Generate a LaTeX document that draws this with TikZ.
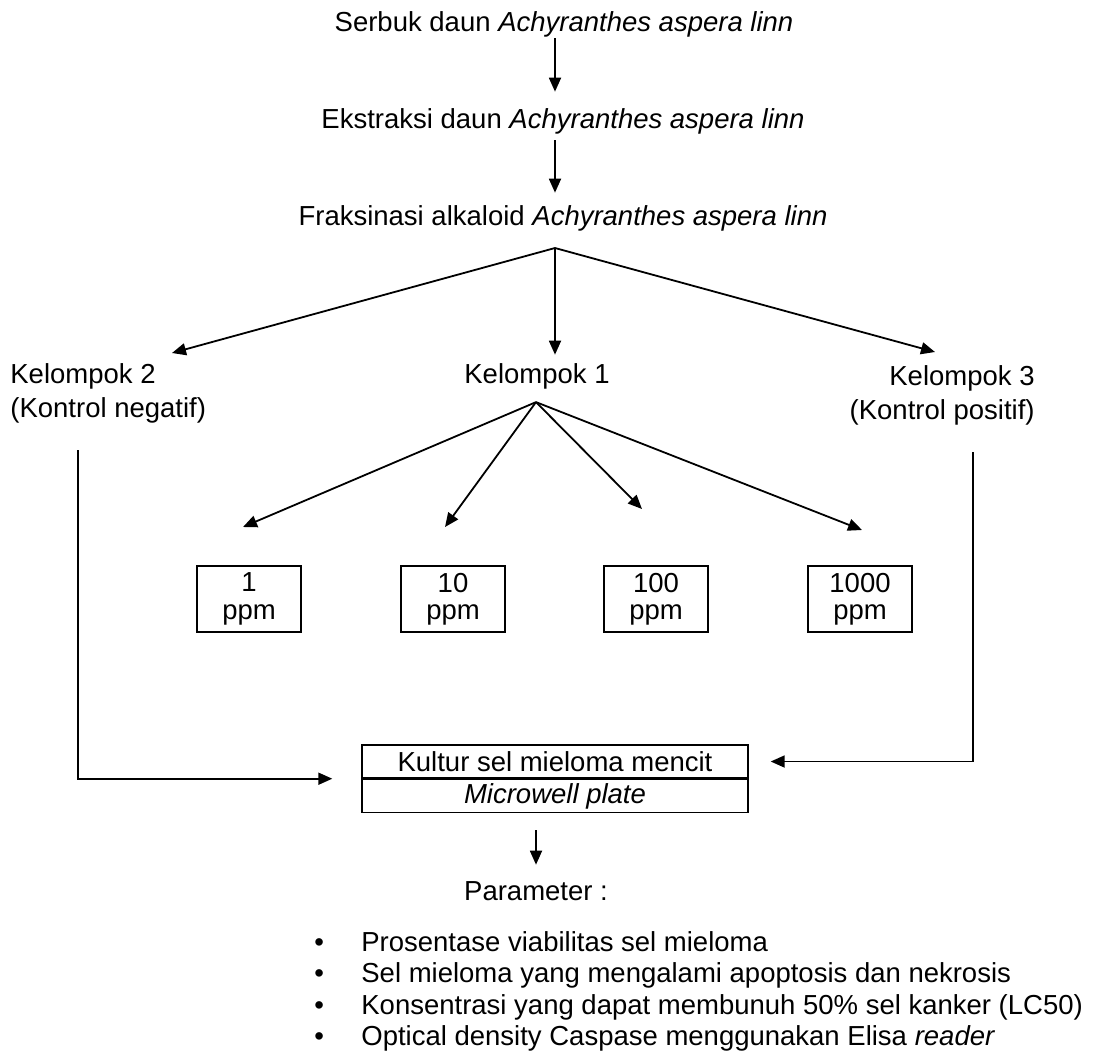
\documentclass[tikz,border=0pt]{standalone}
\usepackage{fontspec}
\setmainfont{Liberation Sans}
\usetikzlibrary{arrows.meta,calc}

\begin{document}
\begin{tikzpicture}[x=.5pt,y=-.5pt,
  every node/.style={inner sep=0pt,font=\fontsize{13.75pt}{17pt}\selectfont},
  arr/.style={-{Triangle[length=7pt,width=6pt]},line width=.9pt},
  ppm/.style={draw,line width=.7pt,minimum width=52pt,minimum height=33pt,align=center,font=\fontsize{13.75pt}{13.75pt}\selectfont},
  cell/.style={draw,line width=.7pt,minimum width=193pt,minimum height=16.5pt}]
\useasboundingbox(0,0)rectangle(1098,1056);
\node[anchor=base](serbuk)at(564,31){Serbuk daun \textit{Achyranthes aspera linn}};
\node[anchor=base](ekstr)at(563,128){Ekstraksi daun \textit{Achyranthes aspera linn}};
\node[anchor=base](fraks)at(563,225){Fraksinasi alkaloid \textit{Achyranthes aspera linn}};
\coordinate(f0)at(555,248);
\draw[arr,shorten <=.5pt,shorten >=8pt](serbuk.south -| f0)--(ekstr.north -| f0);
\draw[arr,shorten <=3pt,shorten >=6pt](ekstr.south -| f0)--(fraks.north -| f0);
\node[anchor=north west,align=left](k2)at(10,363){Kelompok 2\\(Kontrol negatif)};
\node[anchor=base](k1)at(537,383){Kelompok 1};
\node[anchor=north east,align=right](k3)at(1035,365){Kelompok 3\\(Kontrol positif)};
\coordinate(t2)at(172,353);\coordinate(t3)at(935,352);
\draw[arr](f0)--(t2);\draw[arr,shorten >=4pt](f0)--(f0 |- k1.north);\draw[arr](f0)--(t3);
\node[ppm](b1)at(249,599){1\\ppm};\node[ppm](b2)at(453,599){10\\ppm};
\node[ppm](b3)at(656,599){100\\ppm};\node[ppm](b4)at(860,599){1000\\ppm};
\coordinate(g0)at($(k1.south)+(-1,13)$);
\coordinate(s1)at(243,527);\coordinate(s2)at(445,527);\coordinate(s3)at(642,509);\coordinate(s4)at(862,530);
\foreach \t in {s1,s2,s3,s4} \draw[arr](g0)--(\t);
\node[cell](kultur)at(555,761.5){Kultur sel mieloma mencit};
\node[cell,anchor=north](plate)at(kultur.south){\textit{Microwell plate}};
\coordinate(l0)at(78,450);\coordinate(r0)at(973,452);
\draw[arr,shorten >=14.5pt](l0)|-(kultur.south west);
\draw[arr,shorten >=11pt](r0)|-(kultur.east);
\node[anchor=base](param)at(536,900){Parameter :};
\draw[arr,shorten <=8.5pt,shorten >=8pt](plate.south -| param.north)--(param.north);
\node[anchor=north west,align=left,font=\fontsize{13.75pt}{15.75pt}\selectfont](list)at(314,931){%
\makebox[23.5pt][l]{\textbullet}Prosentase viabilitas sel mieloma\\
\makebox[23.5pt][l]{\textbullet}Sel mieloma yang mengalami apoptosis dan nekrosis\\
\makebox[23.5pt][l]{\textbullet}Konsentrasi yang dapat membunuh 50\% sel kanker (LC50)\\
\makebox[23.5pt][l]{\textbullet}Optical density Caspase menggunakan Elisa \textit{reader}};
\end{tikzpicture}
\end{document}
